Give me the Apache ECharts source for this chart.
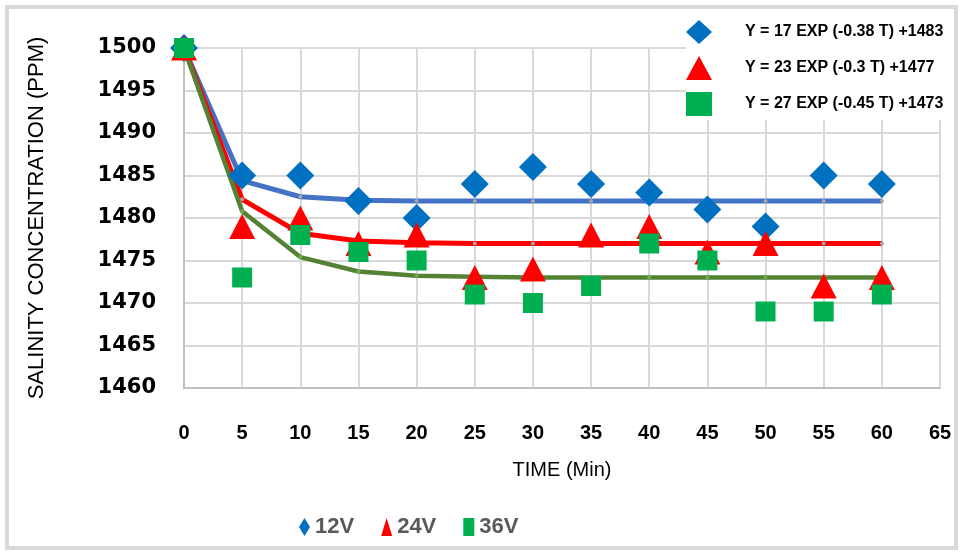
<!DOCTYPE html>
<html>
<head>
<meta charset="utf-8">
<script src="https://cdn.jsdelivr.net/npm/echarts@6/dist/echarts.min.js"></script>
<style>
body { margin: 0; background: #fff; }
#main { width: 963px; height: 554px; }
</style>
</head>
<body>
<div id="main"></div>
<script>
// time in minutes
var times = [0, 5, 10, 15, 20, 25, 30, 35, 40, 45, 50, 55, 60];
// measured salinity (ppm)
var v12 = [1500, 1485, 1485, 1482, 1480, 1484, 1486, 1484, 1483, 1481, 1479, 1485, 1484];
var v24 = [1500, 1479, 1480, 1477, 1478, 1473, 1474, 1478, 1479, 1476, 1477, 1472, 1473];
var v36 = [1500, 1473, 1478, 1476, 1475, 1471, 1470, 1472, 1477, 1475, 1469, 1469, 1471];
// fitted curves
var fit12 = [1500, 1484.4, 1482.5, 1482.1, 1482, 1482, 1482, 1482, 1482, 1482, 1482, 1482, 1482];
var fit24 = [1500, 1482.2, 1478.2, 1477.3, 1477.1, 1477, 1477, 1477, 1477, 1477, 1477, 1477, 1477];
var fit36 = [1500, 1480.8, 1475.4, 1473.7, 1473.2, 1473.1, 1473, 1473, 1473, 1473, 1473, 1473, 1473];
var seriesNames = ['12V', '24V', '36V'];
var fitNames = ['Y = 17 EXP (-0.38 T) +1483', 'Y = 23 EXP (-0.3 T) +1477', 'Y = 27 EXP (-0.45 T) +1473'];

var sans = "'Liberation Sans', Arial, sans-serif";

function pairs(ys) {
    return times.map(function (t, i) { return [t, ys[i]]; });
}

var myChart = echarts.init(document.getElementById('main'));

var option = {
    backgroundColor: '#fff',
    animation: false,
    // outer frame, kept above the inset legend
    graphic: [{
        type: 'rect',
        shape: { x: 7, y: 7, width: 949, height: 541 },
        style: { fill: 'none', stroke: '#d9d9d9', lineWidth: 4 },
        silent: true,
        z: 100
    }],
    grid: { left: 184, right: 23, top: 48, bottom: 166 },
    legend: [{
        data: seriesNames,
        left: 294,
        top: 511,
        itemWidth: 11,
        itemHeight: 18,
        itemGap: 27,
        symbolKeepAspect: false,
        textStyle: { fontSize: 22, fontWeight: 'bold', color: '#595959', fontFamily: sans }
    }, {
        data: [
            { name: fitNames[0], icon: 'diamond', itemStyle: { color: '#0070C0' } },
            { name: fitNames[1], icon: 'triangle', itemStyle: { color: '#FF0000' } },
            { name: fitNames[2], icon: 'rect', itemStyle: { color: '#00B050' } }
        ],
        orient: 'vertical',
        left: 686,
        top: 16,
        itemWidth: 26,
        itemHeight: 24,
        itemGap: 12,
        backgroundColor: '#fff',
        padding: [4, 8, 4, 0],
        textStyle: { fontSize: 16, fontWeight: 'bold', color: '#000', fontFamily: sans, padding: [0, 0, 0, 28] }
    }],
    xAxis: {
        type: 'value',
        min: 0,
        max: 65,
        interval: 5,
        name: 'TIME (Min)',
        nameLocation: 'middle',
        nameGap: 72,
        nameTextStyle: { fontSize: 20, color: '#000', fontFamily: sans },
        axisLine: { show: true, lineStyle: { color: '#bfbfbf', width: 2 } },
        axisTick: { show: false },
        axisLabel: { margin: 35, fontSize: 20, fontWeight: 'bold', color: '#000', fontFamily: sans },
        splitLine: { show: true, lineStyle: { color: '#d9d9d9', width: 2 } }
    },
    yAxis: {
        type: 'value',
        min: 1460,
        max: 1500,
        interval: 5,
        name: 'SALINITY CONCENTRATION (PPM)',
        nameLocation: 'middle',
        nameGap: 136,
        nameTextStyle: { fontSize: 22, color: '#000', fontFamily: sans },
        axisLine: { show: true, lineStyle: { color: '#bfbfbf', width: 2 } },
        axisTick: { show: false },
        axisLabel: {
            margin: 28, fontSize: 21, fontWeight: 'bold', color: '#000',
            fontFamily: "'DejaVu Sans', sans-serif",
            formatter: function (v) { return String(v); }
        },
        splitLine: { show: true, lineStyle: { color: '#d9d9d9', width: 2 } }
    },
    series: [{
        name: fitNames[0],
        type: 'line',
        data: pairs(fit12),
        symbol: 'circle',
        symbolSize: 4,
        itemStyle: { color: '#A5A5A5' },
        lineStyle: { color: '#4472C4', width: 5 },
        z: 2
    }, {
        name: fitNames[1],
        type: 'line',
        data: pairs(fit24),
        symbol: 'circle',
        symbolSize: 4,
        itemStyle: { color: '#A5A5A5' },
        lineStyle: { color: '#FF0000', width: 5 },
        z: 2
    }, {
        name: fitNames[2],
        type: 'line',
        data: pairs(fit36),
        symbol: 'circle',
        symbolSize: 4,
        itemStyle: { color: '#70AD47' },
        lineStyle: { color: '#548235', width: 4.5 },
        z: 2
    }, {
        name: seriesNames[0],
        type: 'scatter',
        data: pairs(v12),
        symbol: 'diamond',
        symbolSize: [28, 28],
        itemStyle: { color: '#0070C0', opacity: 1 },
        clip: false,
        z: 3
    }, {
        name: seriesNames[1],
        type: 'scatter',
        data: pairs(v24),
        symbol: 'triangle',
        symbolSize: [26, 25],
        itemStyle: { color: '#FF0000', opacity: 1 },
        clip: false,
        z: 4
    }, {
        name: seriesNames[2],
        type: 'scatter',
        data: pairs(v36),
        symbol: 'rect',
        symbolSize: [20, 20],
        itemStyle: { color: '#00B050', opacity: 1 },
        clip: false,
        z: 5
    }]
};

myChart.setOption(option);
</script>
</body>
</html>
